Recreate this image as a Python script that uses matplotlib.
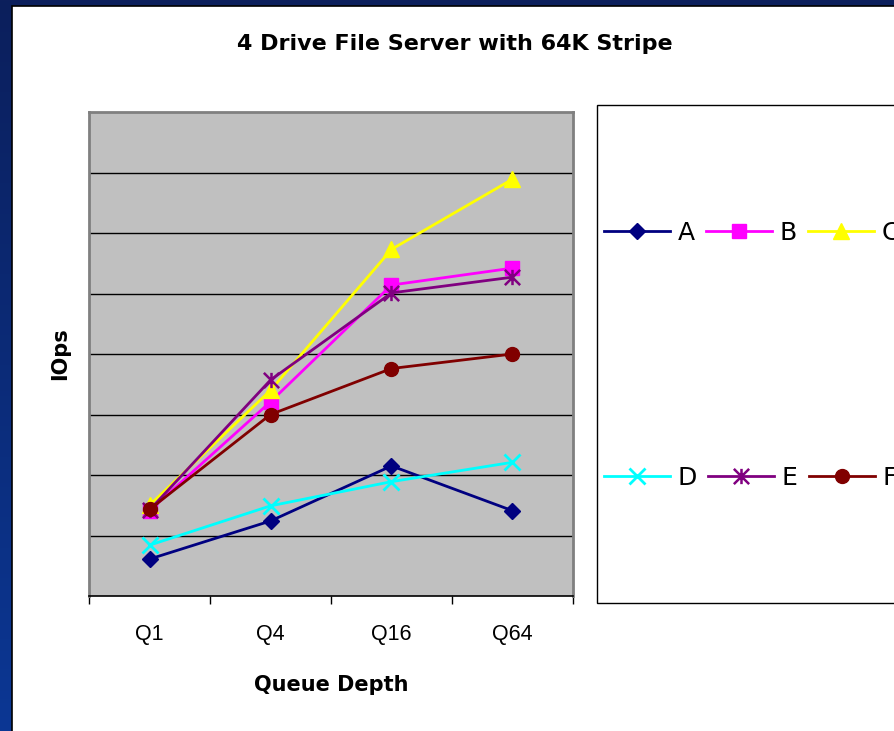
import numpy as np
import matplotlib
matplotlib.use("Agg")
import matplotlib.pyplot as plt
from matplotlib.lines import Line2D
from matplotlib.patches import Rectangle
from matplotlib.path import Path

# === Datos ===
queue_depths = ["Q1", "Q4", "Q16", "Q64"]
series_names = ["A", "B", "C", "D", "E", "F"]
iops_a = [61, 124, 215, 141]
iops_b = [141, 321, 514, 542]
iops_c = [150, 340, 573, 689]
iops_d = [84, 149, 189, 221]
iops_e = [142, 357, 501, 527]
iops_f = [143, 300, 376, 400]

# === Estilos ===
asterisk = Path([(0, -1), (0, 1), (-1, -1), (1, 1), (-1, 1), (1, -1)],
                [Path.MOVETO, Path.LINETO] * 3)
styles = [
    dict(color="#000080", marker="D", markersize=8.5),
    dict(color="#FF00FF", marker="s", markersize=9.5),
    dict(color="#FFFF00", marker="^", markersize=11.5),
    dict(color="#00FFFF", marker="x", markersize=11, markeredgewidth=2),
    dict(color="#800080", marker=asterisk, markersize=11, markeredgewidth=1.8),
    dict(color="#800000", marker="o", markersize=10),
]
all_values = [iops_a, iops_b, iops_c, iops_d, iops_e, iops_f]

plt.rcParams["font.family"] = ["Liberation Sans", "DejaVu Sans"]
bold_font = {"family": "DejaVu Sans", "weight": "bold", "size": 15}

W, H = 894, 731
fig = plt.figure(figsize=(W / 100, H / 100), dpi=100)

# === Fondo de la diapositiva ===
bg = fig.add_axes([0, 0, 1, 1], zorder=-1)
grad = np.linspace(0, 1, 256).reshape(-1, 1)
cmap = matplotlib.colors.LinearSegmentedColormap.from_list("slide", ["#0C1F5C", "#0B3794"])
bg.imshow(grad, aspect="auto", cmap=cmap, extent=[0, W, H, 0])
bg.add_patch(Rectangle((12, 6), W, H, facecolor="white", edgecolor="black", linewidth=1.2))
bg.set_xlim(0, W)
bg.set_ylim(H, 0)
bg.axis("off")

# === Grafico ===
ax = fig.add_axes([89 / W, 1 - 596 / H, 484 / W, 484 / H])
ax.set_facecolor("#C0C0C0")
x = np.arange(len(queue_depths))
for vals, st in zip(all_values, styles):
    ax.plot(x, vals, linewidth=2, clip_on=False, **st)

ax.set_xlim(-0.5, 3.5)
ax.set_ylim(0, 800)
ax.set_yticks(range(100, 800, 100))
ax.set_yticklabels([])
ax.tick_params(axis="y", length=0)
ax.grid(axis="y", color="black", linewidth=1)
ax.set_axisbelow(True)

ax.set_xticks(np.arange(-0.5, 4, 1))
ax.set_xticklabels([])
ax.tick_params(axis="x", which="major", direction="out", length=6, width=1, color="black")
ax.set_xticks(x, minor=True)
ax.set_xticklabels(queue_depths, minor=True, fontsize=15.5)
ax.tick_params(axis="x", which="minor", length=0, pad=20)

for s in ["left", "right", "top"]:
    ax.spines[s].set_color("#808080")
    ax.spines[s].set_linewidth(2)
ax.spines["bottom"].set_color("black")
ax.spines["bottom"].set_linewidth(1.2)

ax.set_ylabel("IOps", fontdict=bold_font)
ax.yaxis.set_label_coords(-19 / 484, 0.5)
ax.set_xlabel("Queue Depth", fontdict=bold_font)
ax.xaxis.set_label_coords(0.5, -(675 - 596) / 484)

fig.text(455 / W, 1 - 44 / H, "4 Drive File Server with 64K Stripe",
         fontdict={"family": "DejaVu Sans", "weight": "bold", "size": 16},
         ha="center", va="center")

# === Leyenda ===
fig.patches.append(Rectangle((597 / W, 1 - 603 / H), 0.5, 498 / H, transform=fig.transFigure,
                             facecolor="white", edgecolor="black", linewidth=1, zorder=1))
handles = [Line2D([], [], linewidth=2, **st) for st in styles]
for row, yc in enumerate([233, 478]):
    leg = fig.legend(handles[row * 3:row * 3 + 3], series_names[row * 3:row * 3 + 3],
                     loc="center left", bbox_to_anchor=(604 / W, 1 - yc / H),
                     ncol=3, frameon=False, borderpad=0, borderaxespad=0,
                     handlelength=2.64, handletextpad=0.3, columnspacing=0.45,
                     prop={"family": "DejaVu Sans", "size": 18})
    leg.set_zorder(2)

fig.savefig("out.png", dpi=100)
